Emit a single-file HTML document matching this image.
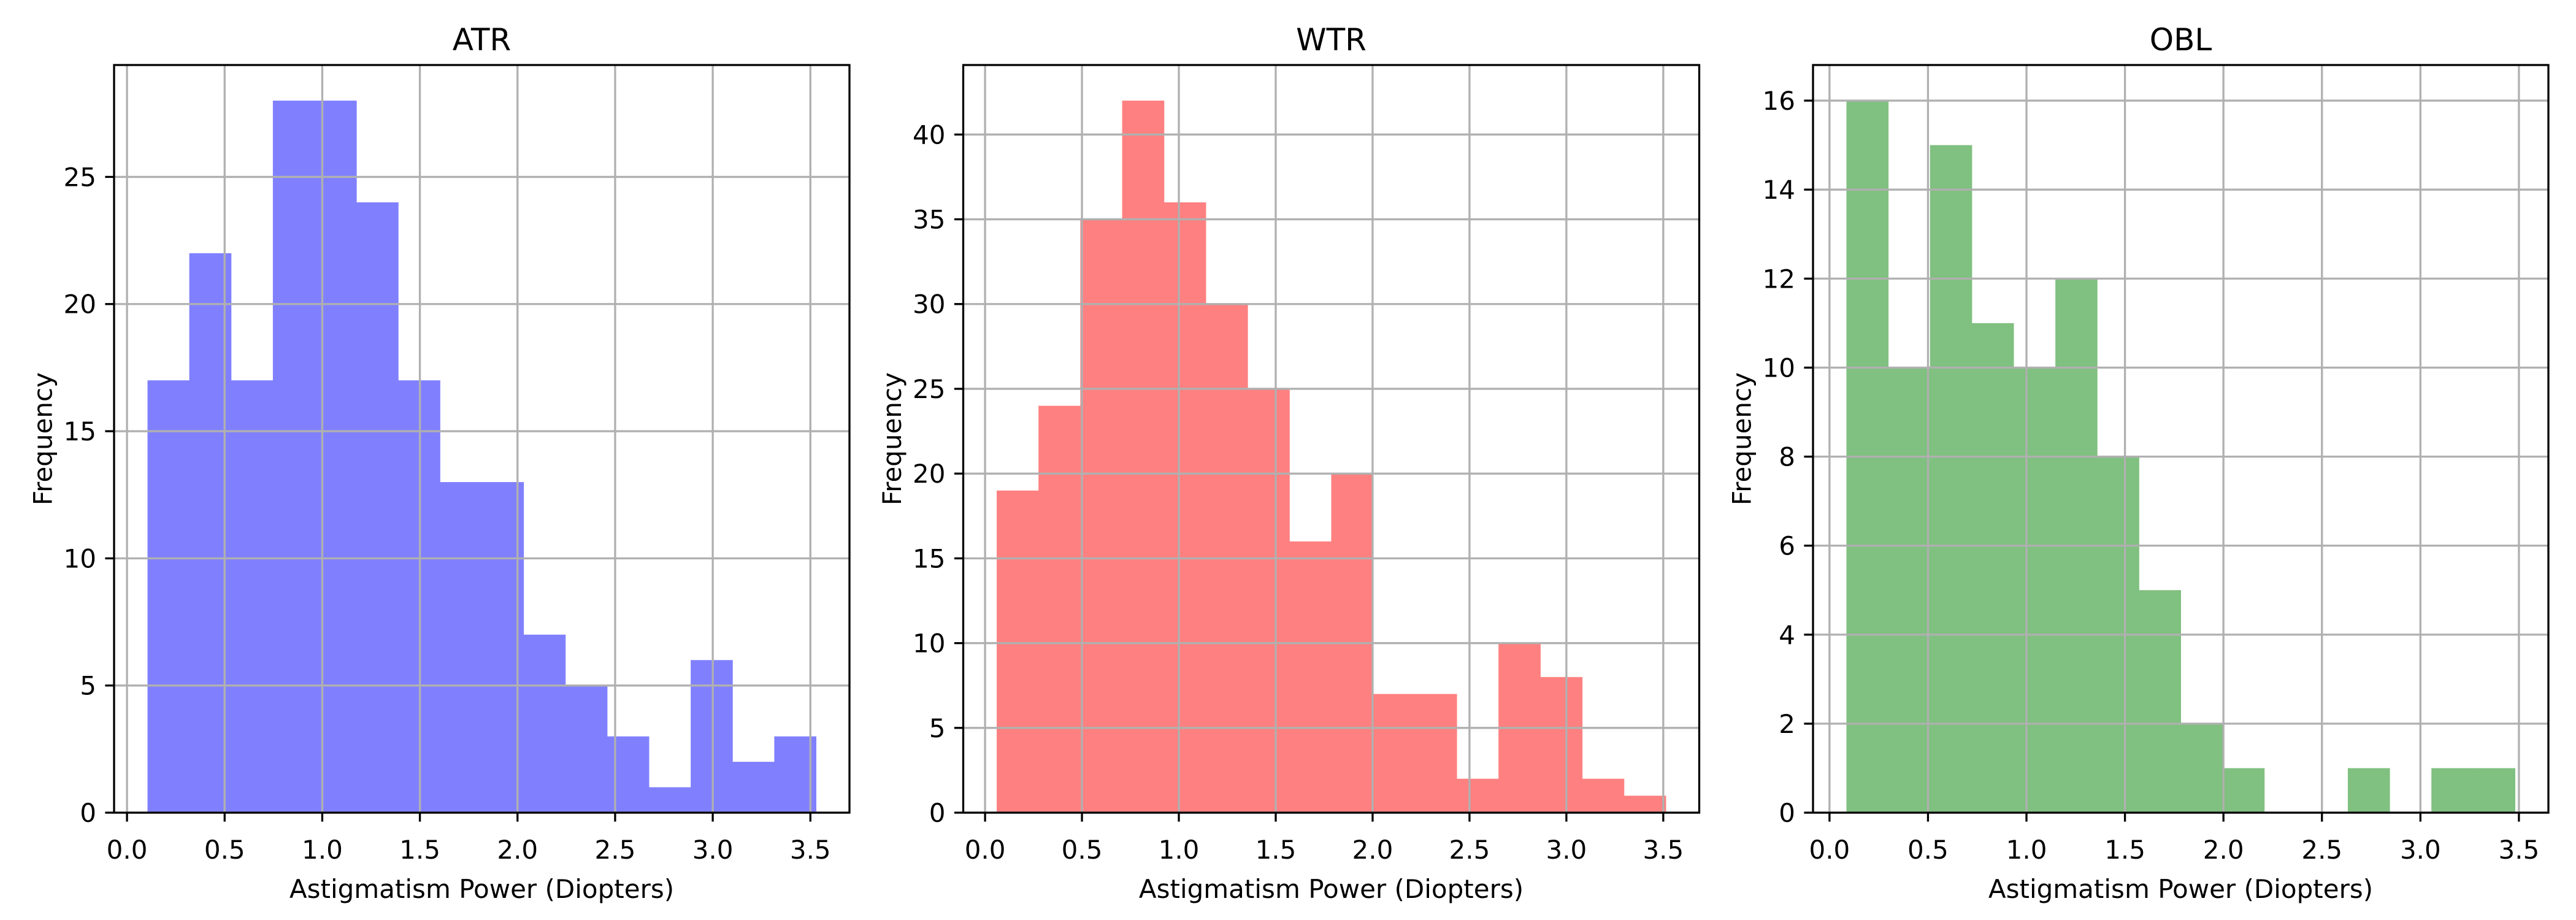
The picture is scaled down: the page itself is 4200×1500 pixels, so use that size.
<!DOCTYPE html>
<html><head><meta charset="utf-8"><style>
html,body{margin:0;padding:0;background:#fff}
svg{display:block}
text{font-family:"DejaVu Sans","Liberation Sans",sans-serif;fill:#000}
</style></head><body>
<svg id="chart" width="4200" height="1500" viewBox="0 0 4200 1500" xmlns="http://www.w3.org/2000/svg"></svg>
<script>
const atrCounts = [17,22,17,28,28,24,17,13,13,7,5,3,1,6,2,3];
const wtrCounts = [19,24,35,42,36,30,25,16,20,7,7,2,10,8,2,1];
const oblCounts = [16,10,15,11,10,12,8,5,2,1,0,0,1,0,1,1];
const atrRange = [0.105, 3.529];
const wtrRange = [0.06, 3.513];
const oblRange = [0.086, 3.48];
const xTicks = ["0.0","0.5","1.0","1.5","2.0","2.5","3.0","3.5"];
const atrYTicks = [0,5,10,15,20,25];
const wtrYTicks = [0,5,10,15,20,25,30,35,40];
const oblYTicks = [0,2,4,6,8,10,12,14,16];
const titles = ["ATR","WTR","OBL"];

const NS="http://www.w3.org/2000/svg";
const svg=document.getElementById('chart');
function mk(tag,attrs,parent){const e=document.createElementNS(NS,tag);for(const k in attrs)e.setAttribute(k,attrs[k]);(parent||svg).appendChild(e);return e;}

const panels=[
 {counts:atrCounts,range:atrRange,yt:atrYTicks,title:titles[0],L:186,R:1385,color:"#8080ff",name:"atr"},
 {counts:wtrCounts,range:wtrRange,yt:wtrYTicks,title:titles[1],L:1570.5,R:2770.5,color:"#ff8080",name:"wtr"},
 {counts:oblCounts,range:oblRange,yt:oblYTicks,title:titles[2],L:2956,R:4155,color:"#80c080",name:"obl"}
];
const T=106,B=1325;
panels.forEach(p=>{
  const g=mk('g',{});
  
  
  const lo=p.range[0],hi=p.range[1],n=p.counts.length,w=(hi-lo)/n;
  const span=hi-lo, xmin=lo-0.05*span, xmax=hi+0.05*span;
  const ymax=Math.max(...p.counts)*1.05;
  const X=v=>p.L+(v-xmin)/(xmax-xmin)*(p.R-p.L);
  const Y=v=>B-v/ymax*(B-T);
  p.counts.forEach((c,i)=>{
    if(c<=0)return;
    const x0=X(lo+i*w),x1=X(lo+(i+1)*w);
    const r=mk('rect',{x:x0,y:Y(c),width:x1-x0+0.5,height:B-Y(c),fill:p.color},g);
    
    
  });
  xTicks.forEach(t=>{
    const x=X(parseFloat(t));
    const l=mk('line',{x1:x,x2:x,y1:T,y2:B,stroke:"#b0b0b0","stroke-width":3.3},g);
    
    
  });
  p.yt.forEach(t=>{
    const y=Y(t);
    const l=mk('line',{x1:p.L,x2:p.R,y1:y,y2:y,stroke:"#b0b0b0","stroke-width":3.3},g);
    
    
  });
  const f=mk('rect',{x:p.L,y:T,width:p.R-p.L,height:B-T,fill:"none",stroke:"#000","stroke-width":3.3},g);
  
  
  xTicks.forEach(t=>{
    const x=X(parseFloat(t));
    mk('line',{x1:x,x2:x,y1:B,y2:B+14.6,stroke:"#000","stroke-width":3.3},g);
    const tx=mk('text',{x:x,y:1400,"font-size":42,"text-anchor":"middle"},g);
    tx.textContent=t;
    
    
  });
  p.yt.forEach(t=>{
    const y=Y(t);
    mk('line',{x1:p.L-14.6,x2:p.L,y1:y,y2:y,stroke:"#000","stroke-width":3.3},g);
    const tx=mk('text',{x:p.L-29,y:y+15,"font-size":42,"text-anchor":"end"},g);
    tx.textContent=t;
    
    
  });
  const cx=(p.L+p.R)/2;
  const ti=mk('text',{x:cx,y:82,"font-size":50,"text-anchor":"middle"},g);
  ti.textContent=p.title;
  
  
  const xl=mk('text',{x:cx,y:1464,"font-size":42,"text-anchor":"middle"},g);
  xl.textContent="Astigmatism Power (Diopters)";
  
  
  const ylx=p.L-116, yc=(T+B)/2;
  const yl=mk('text',{x:ylx,y:yc,"font-size":42,"text-anchor":"middle","dominant-baseline":"central",transform:`rotate(-90 ${ylx} ${yc})`},g);
  yl.textContent="Frequency";
  
  
});
</script>
</body></html>
